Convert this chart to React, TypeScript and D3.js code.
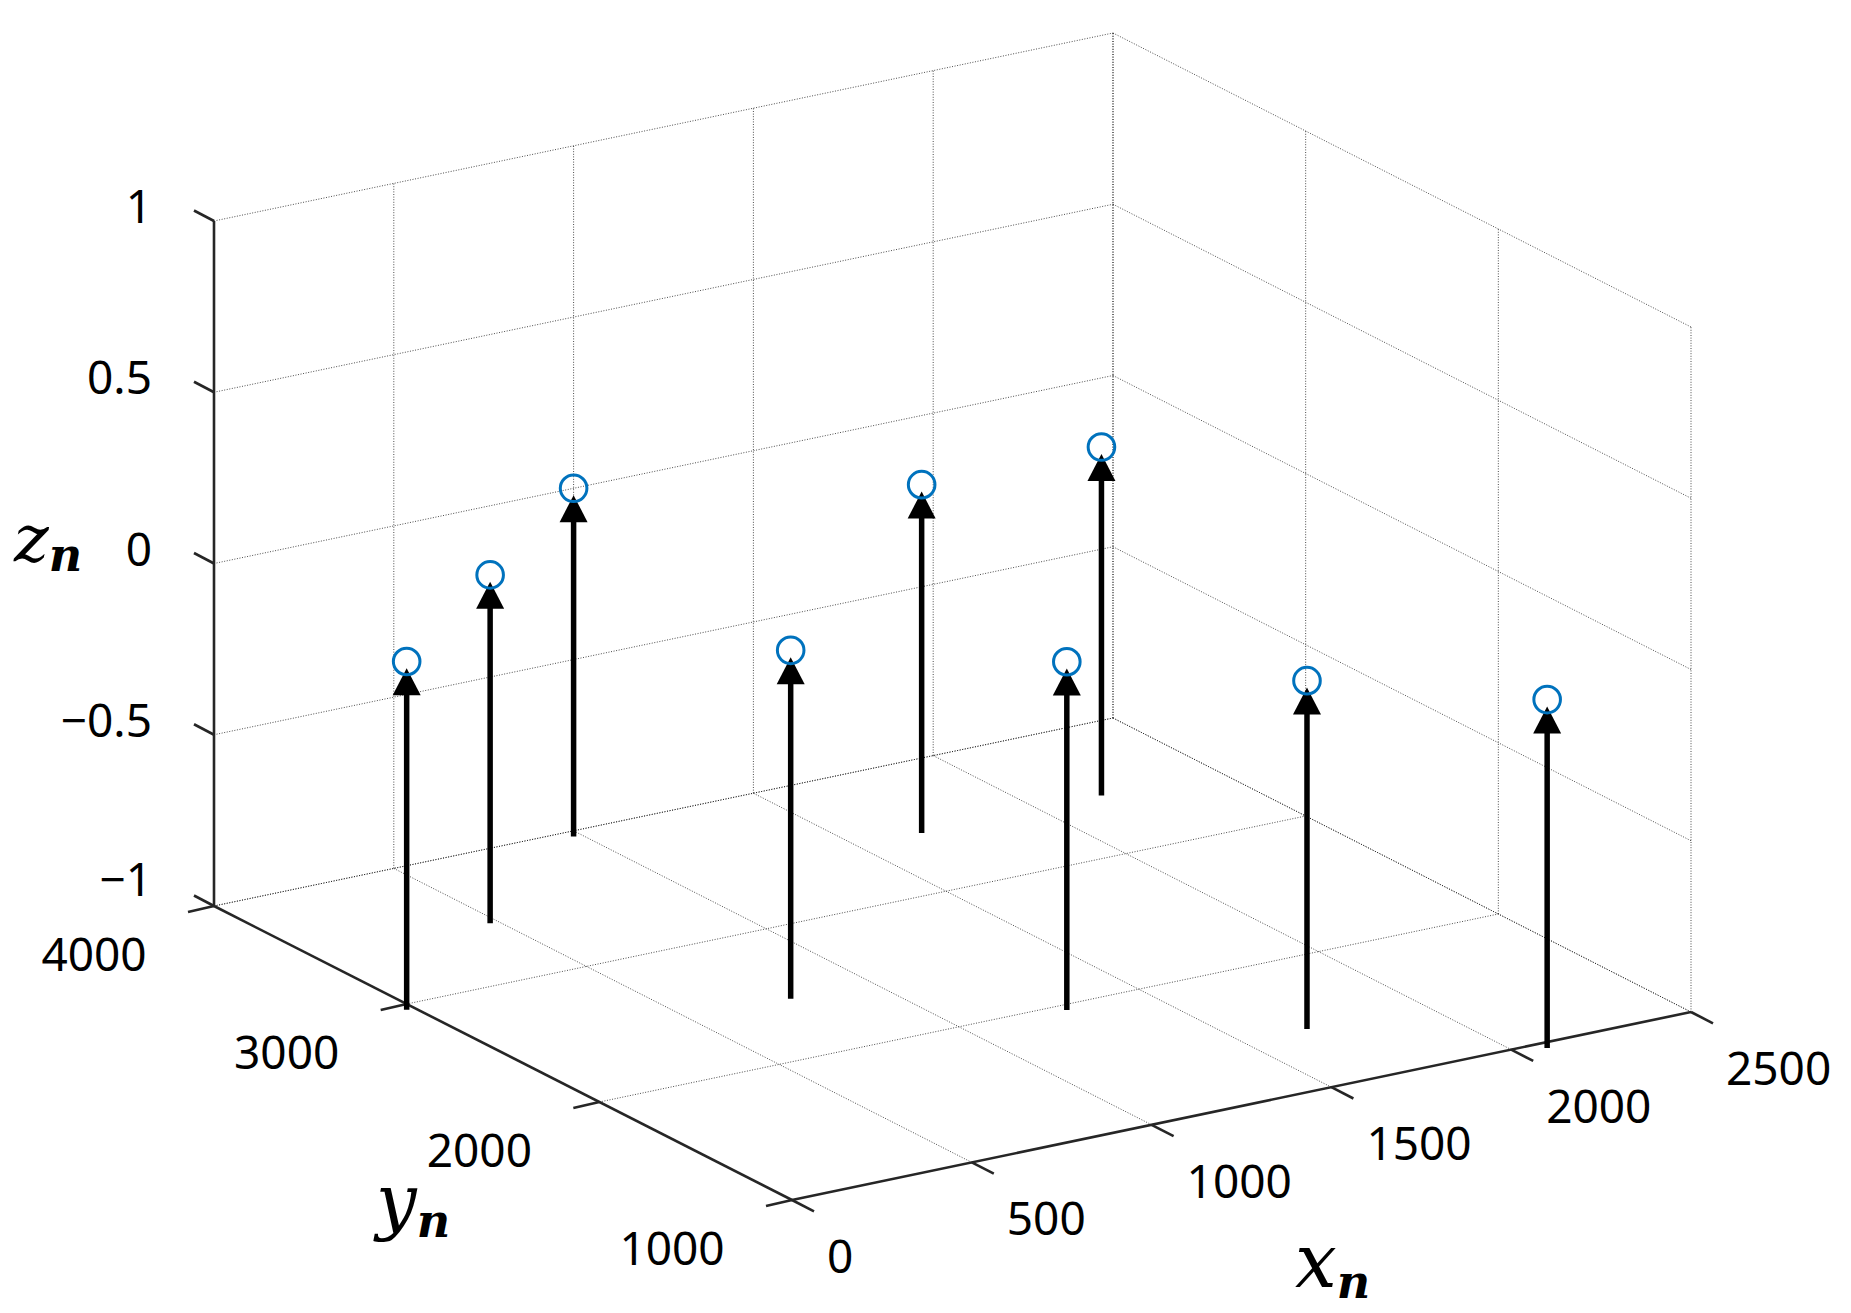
import React from "react";
import * as d3 from "d3";

const W = 1851;
const H = 1313;

// node positions (all nodes sit at z = 0)
const nodeX = [0, 500, 1000, 800, 1700, 1300, 2200, 1700, 2100];
const nodeY = [3000, 3500, 4000, 2500, 3500, 2000, 3500, 1500, 1000];
const nodeZ = [0, 0, 0, 0, 0, 0, 0, 0, 0];

const xTicks = [0, 500, 1000, 1500, 2000, 2500];
const yTicks = [1000, 2000, 3000, 4000];
const zTicks = [-1, -0.5, 0, 0.5, 1];
const zTickLabels = ["\u22121", "\u22120.5", "0", "0.5", "1"];

// 3D -> screen (orthographic view, like MATLAB's default az/el)
const fx = d3.scaleLinear().domain([0, 2500]).range([0, 1]);
const fy = d3.scaleLinear().domain([4000, 1000]).range([0, 1]);
const fz = d3.scaleLinear().domain([-1, 1]).range([0, 1]);
const origin = [214, 906];
const xVec = [899, -188];
const yVec = [578, 294];
const zVec = [0, -685];

function proj(x: number, y: number, z: number): [number, number] {
  const a = fx(x), b = fy(y), c = fz(z);
  return [
    origin[0] + a * xVec[0] + b * yVec[0] + c * zVec[0],
    origin[1] + a * xVec[1] + b * yVec[1] + c * zVec[1],
  ];
}

const tickFont = "'Noto Sans', 'Open Sans', sans-serif";
const titleFont = "'DejaVu Serif', 'Liberation Serif', serif";
const axisColor = "#262626";
const blue = "#0072BD";

function Seg({ a, b, ...rest }: any) {
  return <line x1={a[0]} y1={a[1]} x2={b[0]} y2={b[1]} {...rest} />;
}

export default function App() {
  const [x0, x1] = fx.domain();
  const [y0, y1] = fy.domain(); // 4000 (back), 1000 (front)
  const [z0, z1] = fz.domain();

  // dotted grid on the three back planes
  const grid: [number, number][][] = [];
  xTicks.forEach((x) => {
    grid.push([proj(x, y0, z0), proj(x, y0, z1)]);
    grid.push([proj(x, y1, z0), proj(x, y0, z0)]);
  });
  yTicks.forEach((y) => {
    grid.push([proj(x1, y, z0), proj(x1, y, z1)]);
    grid.push([proj(x0, y, z0), proj(x1, y, z0)]);
  });
  zTicks.forEach((z) => {
    grid.push([proj(x0, y0, z), proj(x1, y0, z)]);
    grid.push([proj(x1, y0, z), proj(x1, y1, z)]);
  });

  const headH = 27;
  const headW = 14;

  return (
    <svg
      width={W}
      height={H}
      style={{ position: "absolute", left: 0, top: 0, background: "#fff" }}
    >
      <rect width={W} height={H} fill="#fff" />

      <g stroke="#111" strokeOpacity={0.75} strokeWidth={1} strokeDasharray="1 1.6" fill="none">
        {grid.map((g, i) => (
          <Seg key={i} a={g[0]} b={g[1]} />
        ))}
      </g>

      {/* axes */}
      <g stroke={axisColor} strokeWidth={2.6} fill="none">
        <Seg a={proj(x0, y0, z0)} b={proj(x0, y0, z1)} />
        <Seg a={proj(x0, y0, z0)} b={proj(x0, y1, z0)} />
        <Seg a={proj(x0, y1, z0)} b={proj(x1, y1, z0)} />
        {zTicks.map((z) => {
          const p = proj(x0, y0, z);
          return <Seg key={"zt" + z} a={p} b={[p[0] - 20, p[1] - 10.5]} />;
        })}
        {yTicks.map((y) => {
          const p = proj(x0, y, z0);
          return <Seg key={"yt" + y} a={p} b={[p[0] - 26, p[1] + 6]} />;
        })}
        {xTicks.map((x) => {
          const p = proj(x, y1, z0);
          return <Seg key={"xt" + x} a={p} b={[p[0] + 22, p[1] + 11.3]} />;
        })}
      </g>

      {/* tick labels */}
      <g fontFamily={tickFont} fontSize={46} fill="#000">
        {zTicks.map((z, i) => {
          const p = proj(x0, y0, z);
          return (
            <text key={"zl" + z} x={p[0] - 62} y={p[1] + (z === z0 ? -10 : 2)} textAnchor="end">
              {zTickLabels[i]}
            </text>
          );
        })}
        {yTicks.map((y) => {
          const p = proj(x0, y, z0);
          return (
            <text key={"yl" + y} x={p[0] - 120} y={p[1] + 65} textAnchor="middle">
              {y}
            </text>
          );
        })}
        {xTicks.map((x) => {
          const p = proj(x, y1, z0);
          return (
            <text key={"xl" + x} x={p[0] + 35} y={p[1] + 73} textAnchor="start">
              {x}
            </text>
          );
        })}
      </g>

      {/* axis titles */}
      <g fontFamily={titleFont} fill="#000">
        <text x={14} y={561} fontSize={66} fontStyle="italic">
          z<tspan fontSize={46} fontWeight="bold" dy={10}>n</tspan>
        </text>
        <text x={376} y={1226} fontSize={72} fontStyle="italic">
          y<tspan fontSize={46} fontWeight="bold" dy={11}>n</tspan>
        </text>
        <text x={1295} y={1287} fontSize={74} fontStyle="italic">
          x<tspan fontSize={46} fontWeight="bold" dy={11}>n</tspan>
        </text>
      </g>

      {/* arrows from the floor up to each node */}
      <g>
        {nodeX.map((x, i) => {
          const base = proj(x, nodeY[i], -1.017);
          const tip = proj(x, nodeY[i], nodeZ[i] - 0.02);
          return (
            <g key={"a" + i}>
              <line
                x1={base[0]}
                y1={base[1]}
                x2={tip[0]}
                y2={tip[1] + headH - 4}
                stroke="#000"
                strokeWidth={5.5}
              />
              <polygon
                points={`${tip[0]},${tip[1]} ${tip[0] - headW},${tip[1] + headH} ${tip[0] + headW},${tip[1] + headH}`}
                fill="#000"
              />
            </g>
          );
        })}
      </g>

      {/* node markers */}
      <g fill="none" stroke={blue} strokeWidth={3}>
        {nodeX.map((x, i) => {
          const p = proj(x, nodeY[i], nodeZ[i]);
          return <circle key={"c" + i} cx={p[0]} cy={p[1]} r={13.3} />;
        })}
      </g>
    </svg>
  );
}
